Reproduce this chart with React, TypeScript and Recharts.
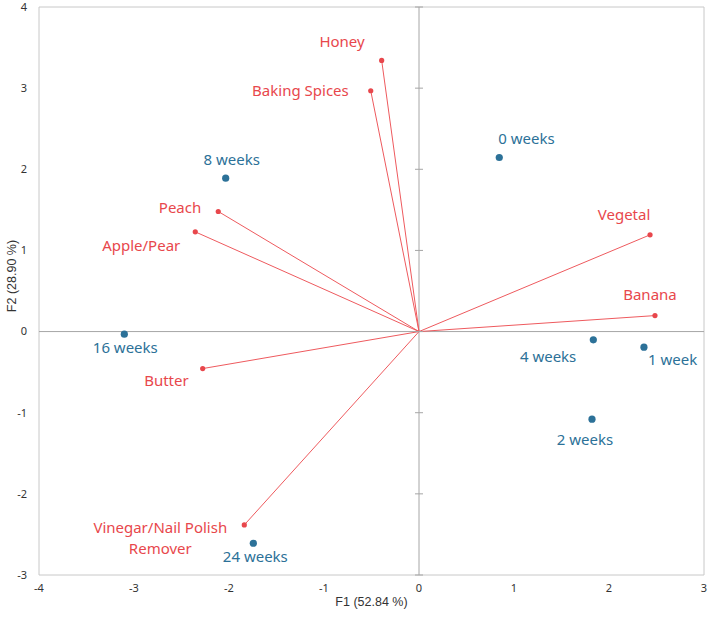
import React from 'react';
import {
  ScatterChart,
  Scatter,
  XAxis,
  YAxis,
  ReferenceLine,
  ReferenceDot,
} from 'recharts';

// Observation scores (ageing time points) on F1 / F2
const obsNames = ['0 weeks', '1 week', '2 weeks', '4 weeks', '8 weeks', '16 weeks', '24 weeks'];
const obsF1 = [0.845, 2.368, 1.821, 1.835, -2.035, -3.102, -1.744];
const obsF2 = [2.145, -0.192, -1.08, -0.102, 1.89, -0.032, -2.609];

// Sensory attribute loadings on F1 / F2
const varNames = [
  'Honey',
  'Baking Spices',
  'Peach',
  'Apple/Pear',
  'Butter',
  'Vinegar/Nail Polish Remover',
  'Vegetal',
  'Banana',
];
const varF1 = [-0.393, -0.508, -2.113, -2.355, -2.277, -1.839, 2.432, 2.484];
const varF2 = [3.342, 2.968, 1.48, 1.229, -0.456, -2.383, 1.192, 0.197];

const xTicks = [-4, -3, -2, -1, 0, 1, 2, 3];
const yTicks = [-3, -2, -1, 0, 1, 2, 3, 4];

const xTitle = 'F1 (52.84 %)';
const yTitle = 'F2 (28.90 %)';

const observations = obsNames.map((name, i) => ({ name, x: obsF1[i], y: obsF2[i] }));
const variables = varNames.map((name, i) => ({ name, x: varF1[i], y: varF2[i] }));

const BLUE = '#2C7198';
const RED = '#E8474C';
const RED_LINE = '#EE5A5E';
const LABEL_FONT = '"Noto Sans", sans-serif';

type Placement = { dx: number; dy: number; anchor: 'start' | 'middle' | 'end'; lines?: string[] };

// Label offsets relative to each marker
const obsLabelPlacement: Record<string, Placement> = {
  '0 weeks': { dx: -1, dy: -20, anchor: 'start' },
  '1 week': { dx: 4, dy: 12, anchor: 'start' },
  '2 weeks': { dx: -7, dy: 20, anchor: 'middle' },
  '4 weeks': { dx: -17, dy: 16, anchor: 'end' },
  '8 weeks': { dx: 6, dy: -19, anchor: 'middle' },
  '16 weeks': { dx: 1, dy: 12.5, anchor: 'middle' },
  '24 weeks': { dx: 2, dy: 12.5, anchor: 'middle' },
};

const varLabelPlacement: Record<string, Placement> = {
  Honey: { dx: -17, dy: -19, anchor: 'end' },
  'Baking Spices': { dx: -22, dy: -1, anchor: 'end' },
  Peach: { dx: -17, dy: -4, anchor: 'end' },
  'Apple/Pear': { dx: -15, dy: 13, anchor: 'end' },
  Butter: { dx: -14, dy: 11, anchor: 'end' },
  'Vinegar/Nail Polish Remover': {
    dx: -84,
    dy: 2,
    anchor: 'middle',
    lines: ['Vinegar/Nail Polish', 'Remover'],
  },
  Vegetal: { dx: -26, dy: -21, anchor: 'middle' },
  Banana: { dx: -5, dy: -22, anchor: 'middle' },
};

const makeShape =
  (color: string, r: number, placement: Record<string, Placement>) => (props: any) => {
    const { cx, cy, payload } = props;
    const p = placement[payload.name];
    const lines = p.lines ?? [payload.name];
    return (
      <g>
        <circle cx={cx} cy={cy} r={r} fill={color} />
        {lines.map((line, k) => (
          <text
            key={k}
            x={cx + p.dx}
            y={cy + p.dy + k * 21.5}
            textAnchor={p.anchor}
            dominantBaseline="central"
            fill={color}
            fontSize={15}
            fontFamily={LABEL_FONT}
          >
            {line}
          </text>
        ))}
      </g>
    );
  };

const crossTick = (props: any) => (
  <line
    x1={props.cx - 4}
    x2={props.cx + 4}
    y1={props.cy}
    y2={props.cy}
    stroke="#A6A6A6"
    strokeWidth={1}
  />
);

const tickStyle = { fontSize: 11, fill: '#333', fontFamily: LABEL_FONT };

export default function App() {
  return (
    <div style={{ position: 'absolute', left: 0, top: 0, background: '#fff' }}>
      <ScatterChart width={709} height={617} margin={{ top: 7, right: 5, bottom: 0, left: 0 }}>
        <XAxis
          type="number"
          dataKey="x"
          domain={[-4, 3]}
          ticks={xTicks}
          allowDataOverflow
          axisLine={false}
          tickLine={false}
          tickSize={0}
          tickMargin={9}
          height={42}
          tick={tickStyle}
          label={(lp: any) => {
            const vb = lp.viewBox;
            return (
              <text
                x={vb.x + vb.width / 2}
                y={vb.y + 27}
                textAnchor="middle"
                dominantBaseline="central"
                fontSize={12.5}
                fill="#333"
                fontFamily='"Liberation Sans", Arial, sans-serif'
              >
                {xTitle}
              </text>
            );
          }}
        />
        <YAxis
          type="number"
          dataKey="y"
          domain={[-3, 4]}
          ticks={yTicks}
          allowDataOverflow
          axisLine={false}
          tickLine={false}
          tickSize={0}
          tickMargin={12}
          width={39}
          tick={tickStyle}
          label={(lp: any) => {
            const vb = lp.viewBox;
            const cx = vb.x + 12;
            const cy = vb.y + 269;
            return (
              <text
                x={cx}
                y={cy}
                transform={`rotate(-90, ${cx}, ${cy})`}
                textAnchor="middle"
                dominantBaseline="central"
                fontSize={12.5}
                fill="#333"
                fontFamily='"Liberation Sans", Arial, sans-serif'
              >
                {yTitle}
              </text>
            );
          }}
        />

        {/* plot frame */}
        <ReferenceLine x={-4} stroke="#C8C8C8" strokeWidth={1} />
        <ReferenceLine x={3} stroke="#C8C8C8" strokeWidth={1} />
        <ReferenceLine y={-3} stroke="#C8C8C8" strokeWidth={1} />
        <ReferenceLine y={4} stroke="#C8C8C8" strokeWidth={1} />

        {/* zero axes */}
        <ReferenceLine x={0} stroke="#A6A6A6" strokeWidth={1} />
        <ReferenceLine y={0} stroke="#A6A6A6" strokeWidth={1} />
        {yTicks.map((t) => (
          <ReferenceDot key={`yt${t}`} x={0} y={t} shape={crossTick} />
        ))}

        {/* loading vectors */}
        {variables.map((v) => (
          <ReferenceLine
            key={`vec-${v.name}`}
            segment={[
              { x: 0, y: 0 },
              { x: v.x, y: v.y },
            ]}
            stroke={RED_LINE}
            strokeWidth={1}
          />
        ))}

        <Scatter
          name="Attributes"
          data={variables}
          isAnimationActive={false}
          shape={makeShape(RED, 2.6, varLabelPlacement)}
        />
        <Scatter
          name="Samples"
          data={observations}
          isAnimationActive={false}
          shape={makeShape(BLUE, 3.6, obsLabelPlacement)}
        />
      </ScatterChart>
    </div>
  );
}
